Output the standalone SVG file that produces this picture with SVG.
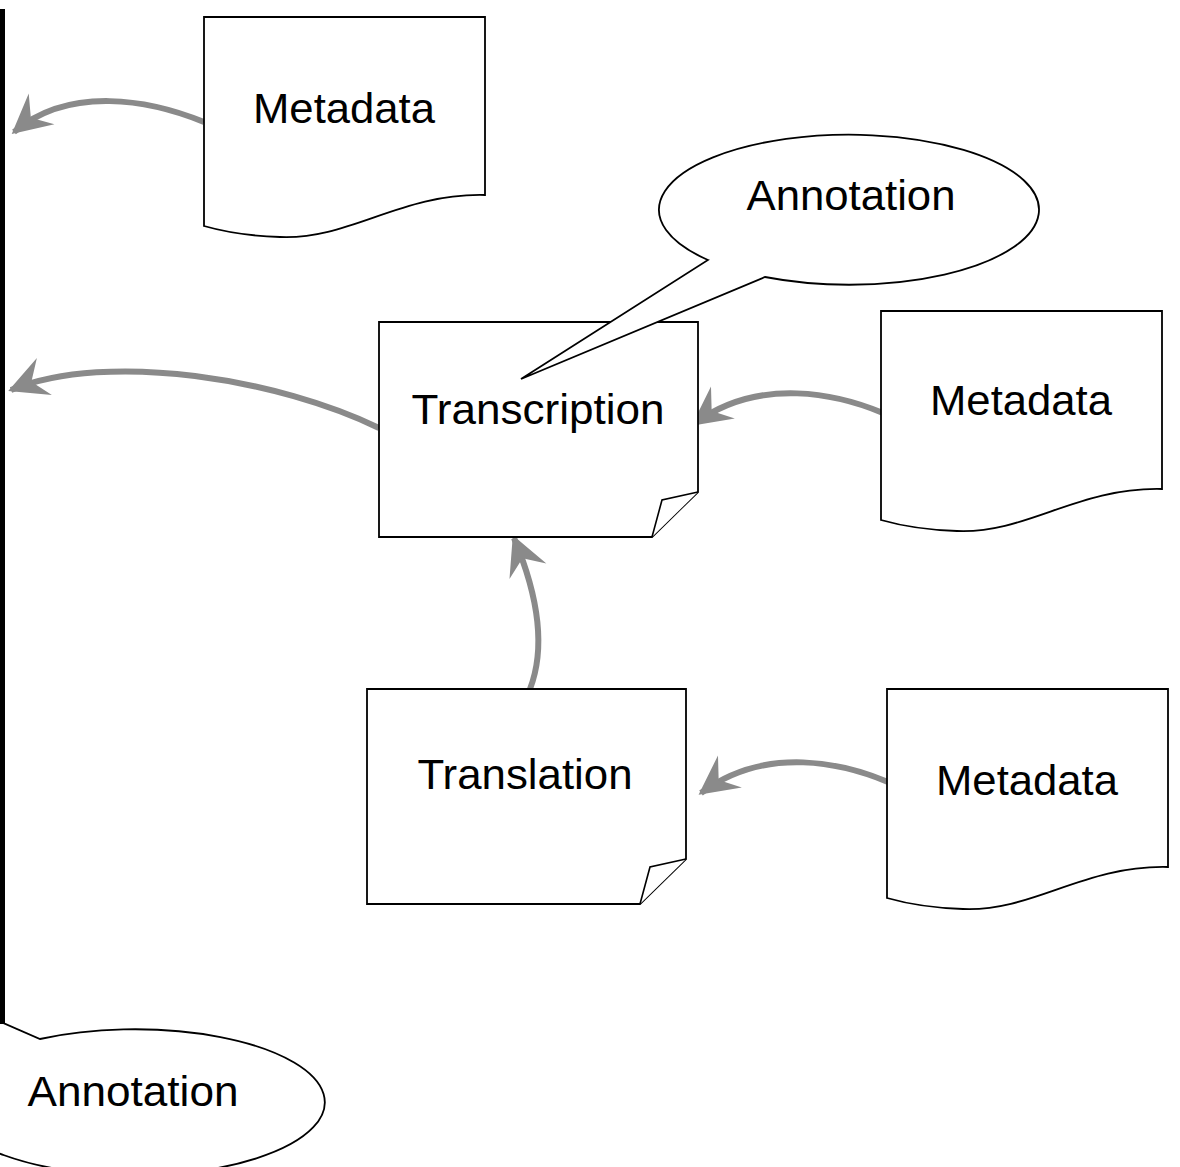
<svg xmlns="http://www.w3.org/2000/svg" xmlns:xlink="http://www.w3.org/1999/xlink" width="1180" height="1167" viewBox="0 0 1180 1167">
<style>
.shape{fill:#ffffff;stroke:#000000;stroke-width:1.8;stroke-linejoin:miter}
.fold{fill:#ffffff;stroke:#000000;stroke-width:1.6}
.lbl{font-family:"Liberation Sans",Arial,sans-serif;font-size:42px;fill:#000000;text-anchor:middle}
.conn{fill:none;stroke:#8a8a8a;stroke-width:6}
</style>
<defs>
<marker id="arr" markerUnits="userSpaceOnUse" markerWidth="60" markerHeight="60" refX="0" refY="0" orient="auto" overflow="visible">
<path d="M3,0 L-36,-20 L-22,0 L-36,20 Z" fill="#8a8a8a"/>
</marker>
<path id="doc" d="M0,0 H281 V178 C196,176 146,223 76,220 C46,219 21,215 0,209 Z"/>
<path id="note" d="M0,0 H319 V170 L273,215 H0 Z"/>
<path id="noteFold" d="M319,170 L283,178 L273,215"/>
</defs>
<rect x="0" y="0" width="1180" height="1167" fill="#ffffff"/>
<rect x="0" y="9" width="5" height="1015" fill="#000000"/>

<g id="connectors">
<path class="conn" d="M204,122 C150,100 70,85 14,132" marker-end="url(#arr)"/>
<path class="conn" d="M379,428 C280,380 110,350 11,390" marker-end="url(#arr)"/>
<path class="conn" d="M883,413 C840,395 760,375 694,424" marker-end="url(#arr)"/>
<path class="conn" d="M530,689 C545,650 540,600 514,538" marker-end="url(#arr)"/>
<path class="conn" d="M888,782 C845,764 767,744 701,793" marker-end="url(#arr)"/>
</g>

<g id="metadata1">
<use xlink:href="#doc" href="#doc" class="shape" transform="translate(204,17)"/>
<text class="lbl" x="344" y="123" textLength="182" lengthAdjust="spacingAndGlyphs">Metadata</text>
</g>

<g id="transcription">
<use xlink:href="#note" href="#note" class="shape" transform="translate(379,322)"/>
<use xlink:href="#noteFold" href="#noteFold" class="fold" transform="translate(379,322)"/>
<text class="lbl" x="538" y="424" textLength="253" lengthAdjust="spacingAndGlyphs">Transcription</text>
</g>

<g id="annotation1">
<path class="shape" d="M708,260 A190,75 0 1 1 765,277 L521,379 Z"/>
<text class="lbl" x="851" y="210" textLength="209" lengthAdjust="spacingAndGlyphs">Annotation</text>
</g>

<g id="metadata2">
<use xlink:href="#doc" href="#doc" class="shape" transform="translate(881,311)"/>
<text class="lbl" x="1021" y="415" textLength="182" lengthAdjust="spacingAndGlyphs">Metadata</text>
</g>

<g id="translation">
<use xlink:href="#note" href="#note" class="shape" transform="translate(367,689)"/>
<use xlink:href="#noteFold" href="#noteFold" class="fold" transform="translate(367,689)"/>
<text class="lbl" x="525" y="789" textLength="215" lengthAdjust="spacingAndGlyphs">Translation</text>
</g>

<g id="metadata3">
<use xlink:href="#doc" href="#doc" class="shape" transform="translate(887,689)"/>
<text class="lbl" x="1027" y="795" textLength="182" lengthAdjust="spacingAndGlyphs">Metadata</text>
</g>

<g id="annotation2">
<path class="shape" d="M40,1039 A190,73 0 1 1 -10,1055 L-5,1023 L3,1023 Z"/>
<text class="lbl" x="133" y="1106" textLength="211" lengthAdjust="spacingAndGlyphs">Annotation</text>
</g>
</svg>
